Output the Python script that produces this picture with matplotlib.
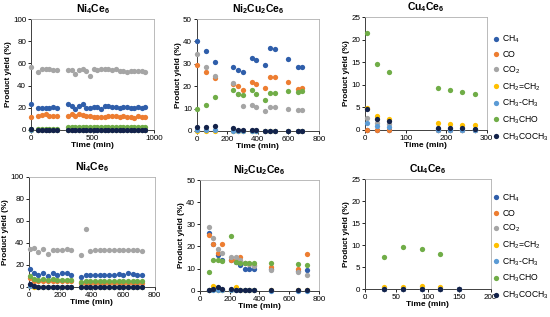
import numpy as np
import matplotlib
matplotlib.use('Agg')
import matplotlib.pyplot as plt
from matplotlib.lines import Line2D

plt.rcParams['font.family'] = ['Liberation Sans', 'DejaVu Sans']
plt.rcParams['mathtext.fontset'] = 'custom'
plt.rcParams['mathtext.rm'] = 'Liberation Sans'
plt.rcParams['mathtext.bf'] = 'Liberation Sans:bold'

nan = np.nan

# Series names / colours (legend order)
species = [r'CH$_\mathregular{4}$', 'CO', r'CO$_\mathregular{2}$',
           r'CH$_\mathregular{2}$=CH$_\mathregular{2}$',
           r'CH$_\mathregular{3}$-CH$_\mathregular{3}$',
           r'CH$_\mathregular{3}$CHO', r'CH$_\mathregular{3}$COCH$_\mathregular{3}$']
colors = ['#2F5EAA', '#ED7D31', '#A5A5A5', '#FFC000', '#5B9BD5', '#70AD47', '#13224A']

# ---- top row ----
# Ni4Ce6 (top)
t_a = [0, 60, 90, 120, 150, 180, 210, 300, 330, 360, 390, 420, 450, 480, 510,
       540, 570, 600, 630, 660, 690, 720, 750, 780, 810, 840, 870, 900, 930]
a_ch4 = [23, 20, 20, 20, 19.5, 20.5, 20, 23, 22, 19, 22, 23.5, 20, 20, 20.5,
         21, 19, 22, 21.5, 21, 20.5, 20, 21, 20.5, 19.5, 19.5, 20.5, 20, 20.5]
a_co = [12, 13, 13.5, 14, 13, 13, 12.5, 13, 14.5, 13, 14, 13.5, 12.5, 12.5, 12,
        12, 12, 12, 12.5, 12.5, 12.5, 12, 12.5, 11.5, 11.5, 10.5, 12.5, 12, 12]
a_co2 = [57, 52, 55, 55, 55, 54, 54, 54, 54, 50, 54, 55, 53, 49, 55,
         54, 55, 55, 55, 54, 55, 53, 53, 52, 53, 53, 53, 53, 52]
a_c2h4 = [0.2, 0, 0, 0, 0, 0, 0, 0, 0, 0, 0, 0, 0, 0, 0,
          0, 0, 0, 0, 0, 0, 0, 0, 0, 0, 0, 0, 0, 0]
a_c2h6 = [0.3, 0, 0, 0, 0, 0, 0, 0, 0, 0, 0, 0, 0, 0, 0,
          0, 0, 0, 0, 0, 0, 0, 0, 0, 0, 0, 0, 0, 0]
a_ald = [0.5, 0.5, 0.5, 0.5, 0.5, 0.5, 0.5, 3, 3, 3, 3, 3, 3, 3, 3,
         3, 3, 3, 3, 3, 3, 3, 3, 3, 3, 3, 3, 3, 3]
a_ace = [1, 0, 0, 0, 0, 0, 0, 0, 0, 0, 0, 0, 0, 0, 0,
         0, 0, 0, 0, 0, 0, 0, 0, 0, 0, 0, 0, 0, 0]

# Ni2Cu2Ce6 (top)
t_b = [0, 60, 120, 240, 270, 300, 360, 390, 450, 480, 510, 600, 660, 690]
b_ch4 = [40, 35.5, 31, 28.5, 27, 26.5, 32.5, 31.8, 29.5, 37, 36.5, 32, 28.5, 28.5]
b_co = [29.5, 26.5, 23.8, 21, 20, 18.5, 21.7, 21.1, 19.2, 24, 24, 22, 18.8, 19]
b_co2 = [34.4, 28.4, 24.7, 21.2, 16.7, 11, 11.5, 10.5, 9, 10.5, 10.5, 10, 9.3, 9.5]
b_c2h4 = [0, 0, 0, 0, 0, 0, 0, 0, 0, 0, 0, 0, 0, 0]
b_c2h6 = [0.2, 0.2, 0.2, 0, 0, 0, 0, 0, 0, 0, 0, 0, 0, 0]
b_ald = [10, 11.5, 15.3, 18.5, 16.5, 16, 18.5, 16.5, 14, 17, 17, 18, 17.5, 18]
b_ace = [1.7, 1.7, 2, 1.5, 0.4, 0.3, 0.3, 0.2, 0, 0, 0, -0.2, 0, 0]

# Cu4Ce6 (top)
t_c = [5, 30, 60, 180, 210, 240, 270]
c_ch4 = [0, 0, 0, 0, 0, 0, 0]
c_co = [0, 0, 0, 0, 0, 0, 0]
c_co2 = [2.7, 1.5, 1.3, 0.2, 0.1, 0.1, 0]
c_c2h4 = [4.9, 3.1, 2.4, 1.6, 1.3, 1.2, 1.0]
c_c2h6 = [1.5, 0.8, 0.6, 0.1, 0.1, 0.1, 0]
c_ald = [21.4, 14.6, 12.8, 9.4, 8.8, 8.5, 7.9]
c_ace = [4.7, 2.5, 1.9, 0.5, 0.5, 0.5, 0.3]

# ---- bottom row ----
# Ni4Ce6 (bottom)
t_d = [5, 30, 60, 90, 120, 150, 180, 210, 240, 270, 330, 360, 390, 420, 450,
       480, 510, 540, 570, 600, 630, 660, 690, 720]
d_ch4 = [16, 12, 11, 12, 10, 12.5, 11, 12.5, 12, 11, 9, 11, 11, 11, 11,
         11, 11, 11, 11.5, 11, 12, 11.5, 11, 10.5]
d_co = [8, 5, 5, 5, 5, 5, 5, 5, 5, 5, 3, 3, 3, 3, 3,
        3, 3, 3, 3, 3, 3, 3, 3, 3]
d_co2 = [34, 35, 31.5, 34, 30, 33, 33, 33, 34, 33, 28.5, 52, 32, 33, 33,
         33, 33, 33, 33, 33, 33.5, 33, 33, 32]
d_c2h4 = [0.3, 0, 0, 0, 0, 0, 0, 0, 0, 0, 0, 0, 0, 0, 0,
          0, 0, 0, 0, 0, 0, 0, 0, 0]
d_c2h6 = [1, 0.5, 0, 0, 0, 0, 0, 0, 0, 0, 0, 0, 0, 0, 0,
          0, 0, 0, 0, 0, 0, 0, 0, 0]
d_ald = [10, 7, 6.5, 7, 6.5, 7, 6.5, 6.5, 6.5, 6.5, 4.5, 5, 5.5, 5.5, 5.5,
         5.5, 5.5, 5.5, 5.5, 5.5, 5.5, 5.5, 5.5, 5.5]
d_ace = [2.5, 1, 0, 0, 0, 0, 0, 0, 0, 0, 0, 0, 0, 0, 0,
         0, 0, 0, 0, 0, 0, 0, 0, 0]

# Ni2Cu2Ce6 (bottom)
t_e = [60, 90, 120, 150, 210, 240, 270, 300, 330, 360, 480, 660, 720]
e_ch4 = [26, 21, 16, 14, 14, 13, 11.5, 10, 10, 10, 10, 9, 9.5]
e_co = [25, 21, 17, 21, 14, 14, 15, 12.5, 12, 11.5, 10.5, 10, 16.5]
e_co2 = [29, 24, 19, 17, 15, 15, 14, 12.5, 12, 11, 9.5, 8.5, 7]
e_c2h4 = [0.5, 2, 0.5, 0.3, 0.5, 1.5, 0.3, 0.2, 0.2, 0.2, 0.1, 0.1, 0.1]
e_c2h6 = [0.3, 0.3, 0.5, 0.3, 0.3, 0.2, 0.2, 0.2, 0.2, 0.2, 0, 0, 0]
e_ald = [8.5, 14, 14, 13.5, 24.5, 13, 12.5, 12.5, 12.5, 12.5, 12.5, 12, 11.5]
e_ace = [0.5, 0.7, 1.5, 0.8, 0.8, 0.2, 0.2, 0.5, 0.5, 0.5, 0.2, 0.1, 0.1]

# Cu4Ce6 (bottom)
t_f = [30, 60, 90, 120, 150]
f_ch4 = [0, 0, 0, 0, 0]
f_co = [0, 0, 0, 0, 0]
f_co2 = [0, 0, 0, 0, 0]
f_c2h4 = [0.4, 0.5, 0.6, 0.4, nan]
f_c2h6 = [0, 0, 0, 0, 0]
f_ald = [7.3, 9.5, 9.2, 7.9, nan]
f_ace = [0, 0, 0, 0, 0]

panels = [
    # (position, title, time, series, xmax, xticks, ymax, ystep)
    ([0.0564, 0.590, 0.2236, 0.350], r'Ni$_\mathbf{4}$Ce$_\mathbf{6}$', t_a,
     [a_ch4, a_co, a_co2, a_c2h4, a_c2h6, a_ald, a_ace], 1000, [0, 500, 1000], 100, 20),
    ([0.3576, 0.587, 0.2224, 0.353], r'Ni$_\mathbf{2}$Cu$_\mathbf{2}$Ce$_\mathbf{6}$', t_b,
     [b_ch4, b_co, b_co2, b_c2h4, b_c2h6, b_ald, b_ace], 800, [0, 200, 400, 600, 800], 50, 10),
    ([0.6636, 0.590, 0.2213, 0.356], r'Cu$_\mathbf{4}$Ce$_\mathbf{6}$', t_c,
     [c_ch4, c_co, c_co2, c_c2h4, c_c2h6, c_ald, c_ace], 300, [0, 100, 200, 300], 25, 5),
    ([0.0527, 0.0956, 0.2285, 0.347], r'Ni$_\mathbf{4}$Ce$_\mathbf{6}$', t_d,
     [d_ch4, d_co, d_co2, d_c2h4, d_c2h6, d_ald, d_ace], 800, [0, 200, 400, 600, 800], 100, 20),
    ([0.3636, 0.0830, 0.2164, 0.349], r'Ni$_\mathbf{2}$Cu$_\mathbf{2}$Ce$_\mathbf{6}$', t_e,
     [e_ch4, e_co, e_co2, e_c2h4, e_c2h6, e_ald, e_ace], 800, [0, 200, 400, 600, 800], 50, 10),
    ([0.6636, 0.0883, 0.2285, 0.347], r'Cu$_\mathbf{4}$Ce$_\mathbf{6}$', t_f,
     [f_ch4, f_co, f_co2, f_c2h4, f_c2h6, f_ald, f_ace], 200, [0, 50, 100, 150, 200], 25, 5),
]

fig = plt.figure(figsize=(5.5, 3.17), dpi=100)

for pos, title, t, series, xmax, xticks, ymax, ystep in panels:
    ax = fig.add_axes(pos)
    for vals, col in zip(series, colors):
        ax.plot(t, vals, 'o', color=col, markersize=3.8, markeredgewidth=0,
                clip_on=False, zorder=3)
    ax.set_xlim(0, xmax)
    ax.set_ylim(0, ymax)
    ax.set_xticks(xticks)
    ax.set_yticks(np.arange(0, ymax + 1, ystep))
    ax.tick_params(labelsize=5.8, length=2, width=0.6, pad=1.5)
    ax.set_title(title, fontsize=7.5, fontweight='bold', pad=5)
    ax.set_xlabel('Time (min)', fontsize=6, fontweight='bold', labelpad=0)
    ax.set_ylabel('Product yield (%)', fontsize=5.8, fontweight='bold', labelpad=1)
    for s in ['top', 'right']:
        ax.spines[s].set_color('#b0b0b0')
        ax.spines[s].set_linewidth(0.6)
    for s in ['left', 'bottom']:
        ax.spines[s].set_color('#404040')
        ax.spines[s].set_linewidth(0.7)

handles = [Line2D([], [], marker='o', linestyle='', color=c, markersize=3.8,
                  markeredgewidth=0) for c in colors]
for y in [0.905, 0.405]:
    fig.legend(handles, species, loc='upper left', bbox_to_anchor=(0.888, y),
               frameon=False, fontsize=6.2, handletextpad=0.2, labelspacing=0.6,
               handlelength=1.0, borderaxespad=0)

fig.savefig('out.png', dpi=100)
